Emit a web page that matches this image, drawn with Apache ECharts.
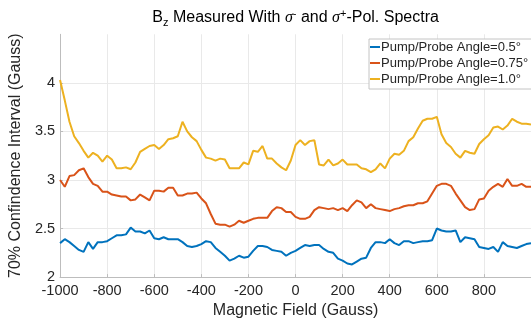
<!DOCTYPE html>
<html>
<head>
<meta charset="utf-8">
<script src="https://cdn.jsdelivr.net/npm/echarts@6/dist/echarts.min.js"></script>
<style>
  html, body { margin: 0; padding: 0; background: #fff; }
  #main { width: 531px; height: 324px; }
</style>
</head>
<body>
<div id="main"></div>
<script>
// magnetic field sample points (Gauss)
const field = [
  -1000, -980, -960, -940, -920, -900, -880, -860, -840, -820,
  -800, -780, -760, -740, -720, -700, -680, -660, -640, -620,
  -600, -580, -560, -540, -520, -500, -480, -460, -440, -420,
  -400, -380, -360, -340, -320, -300, -280, -260, -240, -220,
  -200, -180, -160, -140, -120, -100, -80, -60, -40, -20,
  0, 20, 40, 60, 80, 100, 120, 140, 160, 180,
  200, 220, 240, 260, 280, 300, 320, 340, 360, 380,
  400, 420, 440, 460, 480, 500, 520, 540, 560, 580,
  600, 620, 640, 660, 680, 700, 720, 740, 760, 780,
  800, 820, 840, 860, 880, 900, 920, 940, 960, 980, 1000
];

// 70% confidence interval (Gauss), one array per pump/probe angle
const angle05 = [
  2.35, 2.39, 2.36, 2.32, 2.28, 2.26, 2.36, 2.29, 2.36, 2.36,
  2.37, 2.40, 2.43, 2.43, 2.44, 2.51, 2.47, 2.47, 2.45, 2.48,
  2.40, 2.39, 2.41, 2.39, 2.39, 2.39, 2.36, 2.32, 2.31, 2.32,
  2.34, 2.37, 2.36, 2.30, 2.26, 2.22, 2.17, 2.19, 2.22, 2.20,
  2.21, 2.27, 2.32, 2.32, 2.31, 2.28, 2.27, 2.26, 2.22, 2.25,
  2.27, 2.30, 2.33, 2.32, 2.33, 2.33, 2.29, 2.26, 2.25, 2.19,
  2.17, 2.14, 2.13, 2.16, 2.19, 2.20, 2.30, 2.36, 2.36, 2.35,
  2.39, 2.35, 2.33, 2.37, 2.37, 2.35, 2.36, 2.37, 2.37, 2.38,
  2.50, 2.48, 2.47, 2.47, 2.48, 2.36, 2.41, 2.40, 2.39, 2.31,
  2.30, 2.29, 2.31, 2.26, 2.36, 2.32, 2.31, 2.30, 2.32, 2.34, 2.35
];
const angle075 = [
  3.00, 2.93, 3.04, 3.05, 3.10, 3.12, 3.03, 2.96, 2.94, 2.88,
  2.88, 2.85, 2.84, 2.83, 2.83, 2.79, 2.80, 2.85, 2.82, 2.79,
  2.89, 2.89, 2.88, 2.92, 2.92, 2.84, 2.84, 2.86, 2.86, 2.87,
  2.81, 2.76, 2.65, 2.55, 2.54, 2.54, 2.52, 2.54, 2.58, 2.56,
  2.58, 2.60, 2.61, 2.61, 2.61, 2.68, 2.72, 2.71, 2.67, 2.67,
  2.62, 2.60, 2.60, 2.62, 2.69, 2.72, 2.71, 2.70, 2.71, 2.69,
  2.71, 2.68, 2.74, 2.79, 2.77, 2.71, 2.75, 2.71, 2.70, 2.69,
  2.68, 2.70, 2.71, 2.73, 2.74, 2.74, 2.76, 2.76, 2.78, 2.86,
  2.94, 2.96, 2.96, 2.94, 2.86, 2.79, 2.72, 2.69, 2.70, 2.80,
  2.81, 2.89, 2.93, 2.96, 2.93, 3.01, 2.94, 2.94, 2.96, 2.93, 2.93
];
const angle10 = [
  4.03, 3.82, 3.60, 3.45, 3.38, 3.30, 3.23, 3.28, 3.25, 3.19,
  3.25, 3.21, 3.12, 3.12, 3.13, 3.11, 3.18, 3.29, 3.32, 3.35,
  3.36, 3.32, 3.36, 3.42, 3.43, 3.45, 3.60, 3.50, 3.44, 3.40,
  3.31, 3.23, 3.22, 3.20, 3.22, 3.21, 3.12, 3.12, 3.12, 3.18,
  3.16, 3.30, 3.29, 3.35, 3.22, 3.22, 3.17, 3.13, 3.10, 3.20,
  3.36, 3.41, 3.36, 3.40, 3.41, 3.16, 3.15, 3.21, 3.15, 3.17,
  3.21, 3.16, 3.16, 3.16, 3.12, 3.11, 3.08, 3.11, 3.17, 3.12,
  3.22, 3.27, 3.26, 3.30, 3.40, 3.44, 3.53, 3.61, 3.63, 3.63,
  3.65, 3.47, 3.38, 3.34, 3.27, 3.23, 3.30, 3.28, 3.27, 3.37,
  3.42, 3.46, 3.54, 3.55, 3.52, 3.56, 3.63, 3.60, 3.58, 3.58, 3.57
];

const seriesNames = ['Pump/Probe Angle=0.5°', 'Pump/Probe Angle=0.75°', 'Pump/Probe Angle=1.0°'];
const seriesValues = [angle05, angle075, angle10];
const colors = ['#0072BD', '#D95319', '#EDB120'];
const yTicks = [2, 2.5, 3, 3.5, 4, 4.5];

const font = 'Liberation Sans, Arial, Helvetica, sans-serif';
const axisGray = '#bdbdbd';
const textGray = '#262626';
const gridGray = '#e9e9e9';

const chart = echarts.init(document.getElementById('main'), null, { renderer: 'canvas' });

chart.setOption({
  animation: false,
  color: colors,
  title: {
    left: 295.6,
    top: 8,
    padding: 0,
    textAlign: 'center',
    text: '{n|B}{sub|z}{n| Measured With }{s|σ}{sup|-}{n| and }{s|σ}{sup|+}{n|-Pol. Spectra}',
    textStyle: {
      fontWeight: 'normal',
      rich: {
        n: { fontFamily: font, fontWeight: 'normal', fontSize: 16, color: '#000', lineHeight: 20 },
        s: { fontFamily: 'Liberation Serif, serif', fontWeight: 'normal', fontStyle: 'italic', fontSize: 16, color: '#000', lineHeight: 20 },
        sub: { fontFamily: font, fontWeight: 'normal', fontSize: 11, color: '#000', lineHeight: 4, verticalAlign: 'bottom' },
        sup: { fontFamily: font, fontWeight: 'normal', fontSize: 11, color: '#000', lineHeight: 10, verticalAlign: 'top' }
      }
    }
  },
  legend: {
    orient: 'vertical',
    left: 369,
    top: 39,
    padding: [0, 20, 2, 1],
    itemGap: 0,
    itemWidth: 10,
    itemHeight: 2,
    icon: 'rect',
    backgroundColor: '#fff',
    borderColor: '#c4c4c4',
    borderWidth: 1,
    textStyle: {
      fontFamily: font,
      fontSize: 13,
      color: textGray,
      lineHeight: 16,
      padding: [0, 0, 0, -4]
    },
    data: seriesNames
  },
  grid: {
    left: 53.5,
    right: -7.2,
    top: 34.3,
    bottom: 44.7,
    containLabel: false
  },
  xAxis: {
    type: 'value',
    min: -1000,
    max: 1000,
    interval: 200,
    name: 'Magnetic Field (Gauss)',
    nameLocation: 'middle',
    nameGap: 25,
    nameTextStyle: { fontFamily: font, fontSize: 16, color: textGray },
    axisLine: { show: true, onZero: false, lineStyle: { color: axisGray, width: 1 } },
    axisTick: { show: true, inside: true, length: 3, lineStyle: { color: axisGray } },
    axisLabel: {
      fontFamily: font, fontSize: 14.5, color: textGray, margin: 6,
      showMaxLabel: false,
      formatter: v => String(v)
    },
    splitLine: { show: true, lineStyle: { color: gridGray, width: 1 } }
  },
  yAxis: {
    type: 'value',
    min: yTicks[0],
    max: yTicks[yTicks.length - 1],
    interval: 0.5,
    name: '70% Confindence Interval (Gauss)',
    nameLocation: 'middle',
    nameGap: 31,
    nameTextStyle: { fontFamily: font, fontSize: 16, color: textGray },
    axisLine: { show: true, onZero: false, lineStyle: { color: axisGray, width: 1 } },
    axisTick: { show: true, inside: true, length: 3, lineStyle: { color: axisGray } },
    axisLabel: {
      fontFamily: font, fontSize: 14.5, color: textGray, margin: 5,
      showMaxLabel: false,
      formatter: v => String(v)
    },
    splitLine: {
      show: true,
      lineStyle: { color: [gridGray, gridGray, gridGray, gridGray, gridGray, 'rgba(0,0,0,0)'], width: 1 }
    }
  },
  series: seriesValues.map((vals, i) => ({
    name: seriesNames[i],
    type: 'line',
    showSymbol: false,
    symbol: 'none',
    lineStyle: { width: 2, color: colors[i] },
    itemStyle: { color: colors[i] },
    data: field.map((x, j) => [x, vals[j]])
  }))
});
</script>
</body>
</html>
